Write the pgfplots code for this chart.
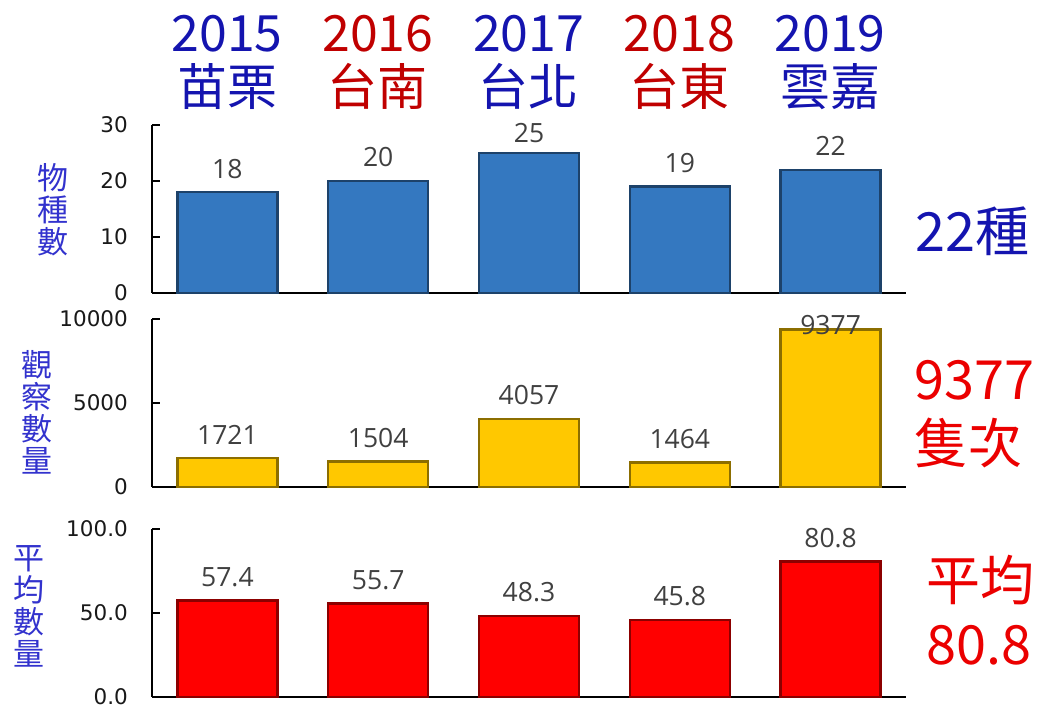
\documentclass[border=0pt]{standalone}
\usepackage{pgfplots}
\usepackage{pgfplotstable}
\pgfplotsset{compat=1.18}
\usepackage{fontspec}
\setmainfont{Noto Sans CJK TC}
\newfontfamily\tickfont{DejaVu Sans}
\newfontfamily\labfont{Open Sans}

\definecolor{hblue}{RGB}{20,20,175}
\definecolor{hred}{RGB}{192,0,0}
\definecolor{yblue}{RGB}{50,50,205}
\definecolor{rred}{RGB}{235,0,0}
\definecolor{barblue}{RGB}{52,120,192}
\definecolor{baryel}{RGB}{255,200,0}
\definecolor{barred}{RGB}{255,0,0}
\definecolor{lab}{RGB}{64,64,64}

% species count
\pgfplotstableread{
x v
0 18
1 20
2 25
3 19
4 22
}\species
% observed count
\pgfplotstableread{
x v
0 1721
1 1504
2 4057
3 1464
4 9377
}\observed
% average count
\pgfplotstableread{
x v
0 57.4
1 55.7
2 48.3
3 45.8
4 80.8
}\average

\pgfplotsset{
  panel/.style={
    width=754pt, height=168pt, scale only axis,
    anchor=south west,
    xmin=-0.5, xmax=4.5, ymin=0,
    axis x line*=bottom, axis y line*=left,
    axis line style={black, line width=1.3pt, -},
    xtick=\empty,
    tick align=inside, major tick length=8pt,
    ytick style={black, line width=1.3pt},
    scaled y ticks=false,
    /pgf/number format/assume math mode=true,
    yticklabel style={font=\tickfont\fontsize{21.5}{25}\selectfont, text=black!90, inner sep=0pt, xshift=-24pt},
    clip=false,
  },
  bars/.style={ybar, bar width=100pt, fill=#1, draw=#1!55!black, line width=2.5pt},
  vals/.style={draw=none, mark=none, nodes near coords={\pgfplotspointmeta},
    point meta=explicit symbolic,
    nodes near coords style={anchor=center, font=\labfont\fontsize{26.5}{30}\selectfont, text=lab}},
}

\begin{document}
\begin{tikzpicture}
\useasboundingbox (0pt,0pt) rectangle (1047pt,707pt);

% headers
\foreach \i/\yr/\pl/\c in {0/2015/苗栗/hblue, 1/2016/台南/hred, 2/2017/台北/hblue, 3/2018/台東/hred, 4/2019/雲嘉/hblue} {
  \node[anchor=base, text=\c, font=\fontsize{50}{56}\selectfont, inner sep=0pt] at ({227pt+150.75pt*\i}, 655pt) {\yr};
  \node[anchor=base, text=\c, font=\fontsize{50}{56}\selectfont, inner sep=0pt] at ({227pt+150.75pt*\i}, 601pt) {\pl};
}

% top panel
\begin{axis}[panel, at={(152pt,414pt)}, ymax=30, ytick={0,10,20,30}]
\addplot[bars=barblue] table[x=x, y=v] {\species};
\addplot[vals] table[x=x, y expr={min(\thisrow{v}+4.2,28.6)}, meta=v] {\species};
\end{axis}

% middle panel
\begin{axis}[panel, at={(152pt,220pt)}, ymax=10000, ytick={0,5000,10000},
  yticklabel style={/pgf/number format/1000 sep={}}]
\addplot[bars=baryel] table[x=x, y=v] {\observed};
\addplot[vals] table[x=x, y expr={min(\thisrow{v}+1400,9644)}, meta=v] {\observed};
\end{axis}

% bottom panel
\begin{axis}[panel, at={(152pt,10pt)}, ymax=100, ytick={0,50,100},
  yticklabel style={/pgf/number format/.cd, fixed, fixed zerofill, precision=1}]
\addplot[bars=barred] table[x=x, y=v] {\average};
\addplot[vals] table[x=x, y expr={min(\thisrow{v}+14,95.2)}, meta=v] {\average};
\end{axis}

% axis titles
\node[text=yblue, align=center, font=\fontsize{31}{32}\selectfont] at (53pt,497pt) {物\\種\\數};
\node[text=yblue, align=center, font=\fontsize{31}{32}\selectfont] at (37pt,295pt) {觀\\察\\數\\量};
\node[text=yblue, align=center, font=\fontsize{31}{32}\selectfont] at (29pt,101pt) {平\\均\\數\\量};

% right summaries
\node[anchor=base west, inner sep=0pt, text=hblue, font=\fontsize{54}{60}\selectfont] at (915pt,455pt) {22種};
\node[anchor=base west, inner sep=0pt, text=rred, font=\fontsize{54}{60}\selectfont] at (914pt,307pt) {9377};
\node[anchor=base west, inner sep=0pt, text=rred, font=\fontsize{54}{60}\selectfont] at (914pt,243pt) {隻次};
\node[anchor=base west, inner sep=0pt, text=rred, font=\fontsize{54}{60}\selectfont] at (926pt,106pt) {平均};
\node[anchor=base west, inner sep=0pt, text=rred, font=\fontsize{54}{60}\selectfont] at (926pt,42pt) {80.8};
\end{tikzpicture}
\end{document}
